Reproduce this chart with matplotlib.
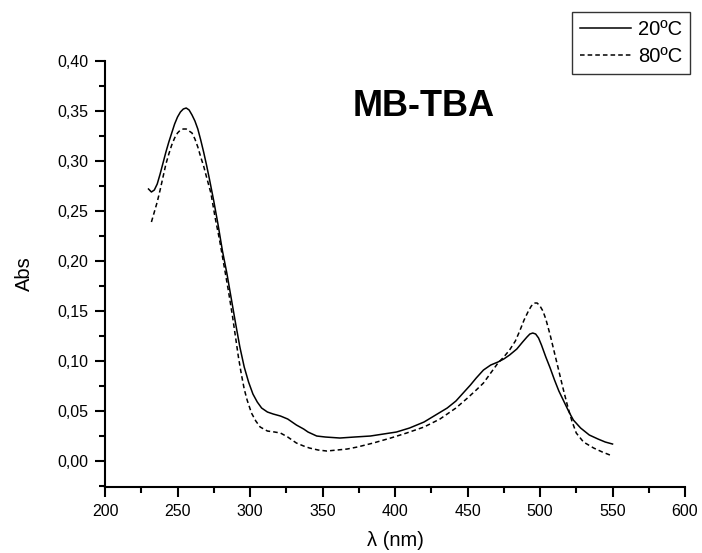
import matplotlib
matplotlib.use('Agg')
import matplotlib.pyplot as plt
from matplotlib.ticker import MultipleLocator, FuncFormatter

plt.rcParams['font.family'] = 'Liberation Sans'

# 20ºC spectrum (solid)
wl_20 = [230, 232, 234, 236, 238, 240, 242, 244, 246, 248, 250, 252, 254, 256, 258, 260,
         262, 264, 266, 268, 270, 272, 275, 278, 281, 284, 287, 290, 293, 296, 299, 302,
         305, 308, 312, 316, 321, 326, 332, 337, 340, 343, 346, 352, 362, 372, 383, 392,
         401, 410, 420, 428, 436, 442, 447, 452, 456, 461, 466, 471, 475, 479, 484, 488,
         491, 493, 495, 497, 499, 501, 504, 507, 510, 513, 516, 520, 523, 528, 534, 540,
         545, 550]
abs_20 = [0.272, 0.269, 0.271, 0.277, 0.287, 0.298, 0.309, 0.319, 0.328, 0.337, 0.344, 0.349,
          0.352, 0.353, 0.351, 0.346, 0.340, 0.332, 0.321, 0.309, 0.296, 0.282, 0.260, 0.236,
          0.210, 0.188, 0.163, 0.138, 0.114, 0.094, 0.079, 0.067, 0.059, 0.053, 0.049, 0.047,
          0.045, 0.042, 0.036, 0.032, 0.029, 0.027, 0.025, 0.024, 0.023, 0.024, 0.025, 0.027,
          0.029, 0.033, 0.039, 0.046, 0.053, 0.060, 0.068, 0.076, 0.083, 0.091, 0.096, 0.099,
          0.102, 0.106, 0.112, 0.119, 0.124, 0.127, 0.128, 0.127, 0.123, 0.116, 0.104, 0.093,
          0.081, 0.070, 0.061, 0.049, 0.041, 0.033, 0.026, 0.022, 0.019, 0.017]

# 80ºC spectrum (dashed)
wl_80 = [232, 234, 236, 238, 240, 242, 244, 246, 248, 250, 252, 254, 256, 258, 260, 262,
         264, 266, 268, 270, 273, 276, 279, 282, 285, 288, 290, 292, 294, 296, 298, 301,
         304, 307, 312, 317, 321, 326, 332, 337, 341, 347, 353, 360, 367, 374, 385, 397,
         408, 420, 431, 442, 450, 456, 461, 466, 471, 475, 479, 483, 486, 489, 492, 494,
         496, 498, 500, 502, 504, 507, 510, 513, 516, 519, 522, 525, 530, 537, 543, 550]
abs_80 = [0.239, 0.249, 0.259, 0.271, 0.284, 0.297, 0.307, 0.316, 0.323, 0.328, 0.331, 0.332,
          0.332, 0.330, 0.328, 0.322, 0.314, 0.304, 0.295, 0.284, 0.268, 0.243, 0.221, 0.196,
          0.171, 0.144, 0.124, 0.104, 0.087, 0.072, 0.061, 0.048, 0.040, 0.034, 0.030, 0.029,
          0.028, 0.024, 0.018, 0.015, 0.013, 0.011, 0.010, 0.011, 0.012, 0.014, 0.018, 0.023,
          0.028, 0.034, 0.042, 0.053, 0.063, 0.071, 0.078, 0.088, 0.098, 0.104, 0.111, 0.120,
          0.130, 0.141, 0.150, 0.155, 0.158, 0.158, 0.155, 0.150, 0.142, 0.126, 0.108, 0.090,
          0.072, 0.055, 0.040, 0.028, 0.019, 0.013, 0.009, 0.005]

fig = plt.figure(figsize=(7.02, 5.53), dpi=100)
ax = fig.add_axes([0.1496, 0.1193, 0.8262, 0.7704])

ax.plot(wl_20, abs_20, color='black', lw=1.1, ls='-', label='20ºC')
ax.plot(wl_80, abs_80, color='black', lw=1.1, ls=(0, (3, 2)), label='80ºC')

ax.set_xlim(200, 600)
ax.set_ylim(-0.026, 0.40)
ax.xaxis.set_major_locator(MultipleLocator(50))
ax.xaxis.set_minor_locator(MultipleLocator(25))
ax.yaxis.set_major_locator(MultipleLocator(0.05))
ax.yaxis.set_minor_locator(MultipleLocator(0.025))
ax.yaxis.set_major_formatter(FuncFormatter(lambda v, p: ('%.2f' % v).replace('.', ',')))

for s in ['top', 'right']:
    ax.spines[s].set_visible(False)
for s in ['left', 'bottom']:
    ax.spines[s].set_linewidth(1.5)
ax.tick_params(which='major', direction='out', length=7, width=1.5, labelsize=11.5, pad=5)
ax.tick_params(which='minor', direction='out', length=4, width=1.5)

ax.set_xlabel('λ (nm)', fontsize=14.5, labelpad=9)
ax.set_ylabel('Abs', fontsize=14.5, labelpad=17)

ax.text(420, 0.3545, 'MB-TBA', fontsize=26, fontweight='bold', ha='center', va='center')

leg = fig.legend(loc='upper right', bbox_to_anchor=(0.983, 0.978), fontsize=14.5,
                 frameon=True, fancybox=False, edgecolor='black', handlelength=2.5,
                 borderpad=0.4, labelspacing=0.4, handletextpad=0.35, borderaxespad=0)
leg.get_frame().set_linewidth(1.0)

fig.savefig('out.png', dpi=100)
